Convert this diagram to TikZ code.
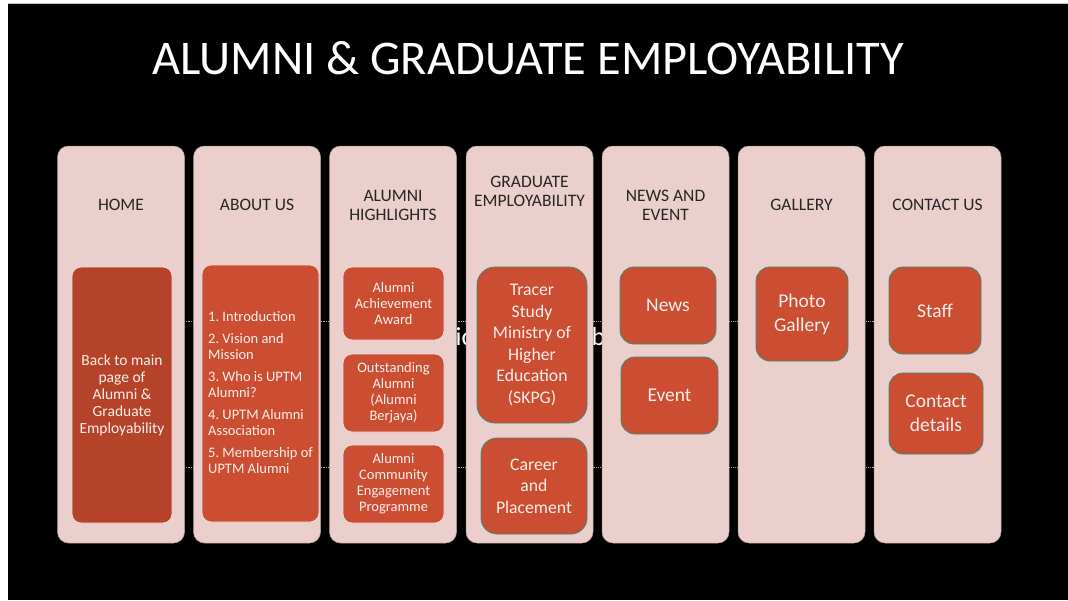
\documentclass[tikz,border=0pt]{standalone}
\usepackage{fontspec}
\setmainfont{Carlito}
\frenchspacing
\definecolor{colbg}{HTML}{EACFCC}
\definecolor{colline}{HTML}{B89A96}
\definecolor{boxB}{HTML}{CB4E32}
\definecolor{boxH}{HTML}{B5432A}
\definecolor{boxedge}{HTML}{F2DCD8}
\definecolor{greenedge}{HTML}{3F8C70}
\definecolor{hdrtext}{HTML}{262626}
\definecolor{boxtext}{HTML}{FBEEEB}
\definecolor{dotgray}{HTML}{AAAAAA}
\begin{document}
\begin{tikzpicture}[x=1pt,y=-1pt,
  col/.style={fill=colbg, draw=colline, line width=0.5pt, rounded corners=11pt,
    minimum width=127pt, minimum height=397pt, inner sep=0pt},
  hdr/.style={text=hdrtext, font=\fontsize{17.5}{19.5}\selectfont, align=center, inner sep=0pt},
  boxl/.style={fill=boxB, draw=boxedge, line width=0.8pt, rounded corners=9pt,
    inner sep=0pt, text=boxtext, align=center},
  boxg/.style={fill=boxB, draw=greenedge, line width=0.8pt, rounded corners=14pt,
    inner sep=0pt, text=boxtext, align=center},
  small/.style={font=\fontsize{14.5}{16}\selectfont},
  mid/.style={font=\fontsize{17.7}{21.5}\selectfont},
  big/.style={font=\fontsize{19.5}{24}\selectfont},
  dotline/.style={draw=dotgray, line width=0.8pt, densely dotted},
]
\useasboundingbox (0,0) rectangle (1068,600);
\fill[white] (0,0) rectangle (1068,600);
\fill[black] (8,4) rectangle (1068,600);
\draw[gray!50, line width=1pt] (8,3.5) -- (1068,3.5);

% title
\node[text=white, font=\fontsize{48.4}{50}\selectfont, inner sep=0pt] (title) at (528,58.5)
  {ALUMNI \& GRADUATE EMPLOYABILITY};

% dotted guide lines behind the columns
\coordinate (l1) at (58,321);  \coordinate (r1) at (1001,321);
\coordinate (l2) at (58,467);  \coordinate (r2) at (1001,467);
\draw[dotline] (l1) -- (r1);
\draw[dotline] (l2) -- (r2);

% hidden placeholder text fragments
\node[text=white, font=\fontsize{26}{28}\selectfont, inner sep=0pt, anchor=base west] (hid1) at (455.5,345) {ic};
\node[text=white, font=\fontsize{26}{28}\selectfont, inner sep=0pt, anchor=base west] (hid2) at (591.5,345) {b};

% columns
\node[col] (c1) at (121,344.5) {};
\node[col] (c2) at (257,344.5) {};
\node[col] (c3) at (393,344.5) {};
\node[col] (c4) at (529.5,344.5) {};
\node[col] (c5) at (665.5,344.5) {};
\node[col] (c6) at (801.5,344.5) {};
\node[col] (c7) at (937.5,344.5) {};

% headers
\node[hdr] (h1) at (121,205) {HOME};
\node[hdr] (h2) at (257,205) {ABOUT US};
\node[hdr] (h3) at (393,205.5) {ALUMNI\\HIGHLIGHTS};
\node[hdr] (h4) at (529.5,191.5) {GRADUATE\\EMPLOYABILITY};
\node[hdr] (h5) at (665.5,205.5) {NEWS AND\\EVENT};
\node[hdr] (h6) at (801.5,205) {GALLERY};
\node[hdr] (h7) at (937.5,205) {CONTACT US};

% HOME
\node[boxl, fill=boxH, minimum width=100pt, minimum height=256pt,
  font=\fontsize{15.5}{17}\selectfont] (b1) at (122,395)
  {Back to main\\page of\\Alumni \&\\Graduate\\Employability};

% ABOUT US
\node[boxl, minimum width=117pt, minimum height=257pt] (b2) at (260.5,393.5) {};
\node[small, text=boxtext, anchor=west, align=left, inner sep=0pt] (b2t) at (208,392.5)
  {1. Introduction\\[6pt]
   2. Vision and\\Mission\\[6pt]
   3. Who is UPTM\\Alumni?\\[6pt]
   4. UPTM Alumni\\Association\\[6pt]
   5. Membership of\\UPTM Alumni};

% ALUMNI HIGHLIGHTS
\node[boxl, small, minimum width=101pt, minimum height=73pt] (b3a) at (393.5,303.5)
  {Alumni\\Achievement\\Award};
\node[boxl, small, minimum width=101pt, minimum height=78pt] (b3b) at (393.5,393)
  {Outstanding\\Alumni\\(Alumni\\Berjaya)};
\node[boxl, small, minimum width=101pt, minimum height=78pt] (b3c) at (393.5,484)
  {Alumni\\Community\\Engagement\\Programme};

% GRADUATE EMPLOYABILITY
\node[boxg, mid, minimum width=110pt, minimum height=156pt, rounded corners=18pt] (b4a) at (532,345)
  {Tracer\\Study\\Ministry of\\Higher\\Education\\(SKPG)};
\node[boxg, mid, minimum width=106pt, minimum height=96pt, rounded corners=16pt] (b4b) at (534,486)
  {Career\\and\\Placement};

% NEWS AND EVENT
\node[boxg, big, minimum width=96pt, minimum height=77pt] (b5a) at (668,305.5) {News};
\node[boxg, big, minimum width=97pt, minimum height=77pt] (b5b) at (669.5,395.5) {Event};

% GALLERY
\node[boxg, big, minimum width=92pt, minimum height=94pt] (b6) at (802,314) {Photo\\Gallery};

% CONTACT US
\node[boxg, big, minimum width=92pt, minimum height=87pt] (b7a) at (935,310.5) {Staff};
\node[boxg, big, minimum width=94pt, minimum height=81pt] (b7b) at (936,413.5) {Contact\\details};
\end{tikzpicture}
\end{document}
